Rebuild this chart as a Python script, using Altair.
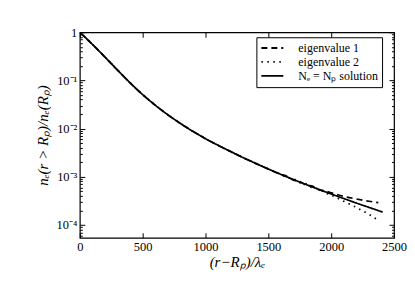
import altair as alt
import pandas as pd

# ---- data ----
x_solid = [0, 100, 200, 300, 400, 500, 600, 700, 800, 900, 1000, 1100, 1200, 1300,
           1400, 1500, 1600, 1700, 1800, 1900, 2000, 2100, 2200, 2300, 2410]
y_solid = [1.0, 0.5623, 0.3055, 0.1641, 0.0891, 0.0507, 0.03055, 0.01936, 0.01279,
           0.00875, 0.00617, 0.00449, 0.00333, 0.00249, 0.00189, 0.001445, 0.001117,
           8.73e-4, 6.89e-4, 5.47e-4, 4.38e-4, 3.52e-4, 2.84e-4, 2.31e-4, 1.84e-4]

x_eig1 = x_solid[:17] + [1650, 1700, 1750, 1800, 1850, 1900, 1950, 2000, 2100, 2200, 2300, 2375]
y_eig1 = y_solid[:17] + [1.02e-3, 8.5e-4, 8.0e-4, 6.7e-4, 6.4e-4, 5.4e-4, 5.1e-4, 4.65e-4,
                         3.9e-4, 3.45e-4, 3.1e-4, 2.9e-4]

x_eig2 = x_solid[:17] + [1650, 1700, 1750, 1800, 1850, 1900, 1950, 2000, 2100, 2200, 2300, 2380]
y_eig2 = y_solid[:17] + [9.6e-4, 9.0e-4, 7.5e-4, 7.1e-4, 5.9e-4, 5.6e-4, 4.7e-4, 4.15e-4,
                         3.1e-4, 2.3e-4, 1.65e-4, 1.22e-4]

series_names = ["eigenvalue 1", "eigenvalue 2", "Nₑ = Nₚ solution"]

x_ticks = [0, 500, 1000, 1500, 2000, 2500]
y_ticks = [1e-4, 1e-3, 1e-2, 1e-1, 1]
y_tick_labels = ["10⁻⁴", "10⁻³", "10⁻²", "10⁻¹", "1"]
y_minor = [m * 10.0 ** k for k in range(-5, 0) for m in range(2, 10)]
y_minor = [v for v in y_minor if 5.4e-5 <= v <= 1]

# ---- table ----
rows = []
for name, xs, ys in [(series_names[0], x_eig1, y_eig1),
                     (series_names[1], x_eig2, y_eig2),
                     (series_names[2], x_solid, y_solid)]:
    for i, (a, b) in enumerate(zip(xs, ys)):
        rows.append({"x": a, "y": b, "series": name, "order": i})
df = pd.DataFrame(rows)

FONT = "Liberation Serif"

xscale = alt.Scale(domain=[0, 2500], nice=False, zero=False)
yscale = alt.Scale(type="log", domain=[5.4e-5, 1], nice=False)

label_expr = " : ".join(
    f"abs(log(datum.value)/log(10) - ({k})) < 0.01 ? '{lab}'"
    for k, lab in zip([-4, -3, -2, -1, 0], y_tick_labels)
) + " : ''"

common = dict(domain=False, grid=False, tickColor="black", tickWidth=1)

ax_bottom = alt.Axis(orient="bottom", values=x_ticks, tickSize=5, offset=-5,
                     labelPadding=3, labelFont=FONT, labelFontSize=12.5,
                     labelColor="black", format="d", labelFlush=False,
                     labelOverlap=False,
                     title="(r−Rₚ)/λₑ", titleFont=FONT, titleFontSize=15,
                     titleFontStyle="italic", titleFontWeight="normal",
                     titleColor="black", titlePadding=1, **common)
ax_top = alt.Axis(orient="top", values=x_ticks, tickSize=5, offset=-5,
                  labels=False, title=None, **common)
ax_left = alt.Axis(orient="left", values=y_ticks, tickSize=5, offset=-5,
                   labelPadding=3, labelFont=FONT, labelFontSize=12.5,
                   labelColor="black", labelExpr=label_expr, labelFlush=False,
                   labelOverlap=False,
                   title="nₑ(r > Rₚ)/nₑ(Rₚ)", titleFont=FONT, titleFontSize=15,
                   titleFontStyle="italic", titleFontWeight="normal",
                   titleColor="black", titlePadding=6, **common)
ax_left_minor = alt.Axis(orient="left", values=y_minor, tickSize=2.5, offset=-2.5,
                         labels=False, title=None, **common)
ax_right = alt.Axis(orient="right", values=y_ticks, tickSize=5, offset=-5,
                    labels=False, title=None, **common)
ax_right_minor = alt.Axis(orient="right", values=y_minor, tickSize=2.5, offset=-2.5,
                          labels=False, title=None, **common)

base = alt.Chart(df)

lines = base.mark_line(color="black", strokeWidth=1.7, clip=True,
                       interpolate="monotone").encode(
    x=alt.X("x:Q", scale=xscale, axis=ax_bottom),
    y=alt.Y("y:Q", scale=yscale, axis=ax_left),
    order="order:Q",
    strokeDash=alt.StrokeDash(
        "series:N",
        scale=alt.Scale(domain=series_names, range=[[6, 4], [1.5, 4.5], [1, 0]]),
        legend=alt.Legend(
            title=None, orient="none", legendX=177, legendY=5,
            fillColor="white", strokeColor="black", padding=4,
            cornerRadius=0, symbolType="stroke", symbolSize=484,
            symbolStrokeColor="black", symbolStrokeWidth=1.8,
            labelFont=FONT, labelFontSize=12, labelColor="black",
            labelOffset=14, rowPadding=0, clipHeight=13.5, labelLimit=200,
        ),
    ),
)


def ghost(xaxis, yaxis):
    return base.mark_line(strokeOpacity=0).encode(
        x=alt.X("x:Q", scale=xscale, axis=xaxis),
        y=alt.Y("y:Q", scale=yscale, axis=yaxis),
        detail="series:N",
    )


chart = alt.layer(
    lines,
    ghost(ax_top, ax_left_minor),
    ghost(None, ax_right),
    ghost(None, ax_right_minor),
).resolve_axis(x="independent", y="independent").properties(
    width=315, height=206,
    padding={"left": 27, "top": 18, "right": 0, "bottom": 5},
).configure_view(stroke="black", strokeWidth=1.2)

chart.save("out.html", embed_options={"renderer": "svg", "actions": False})
